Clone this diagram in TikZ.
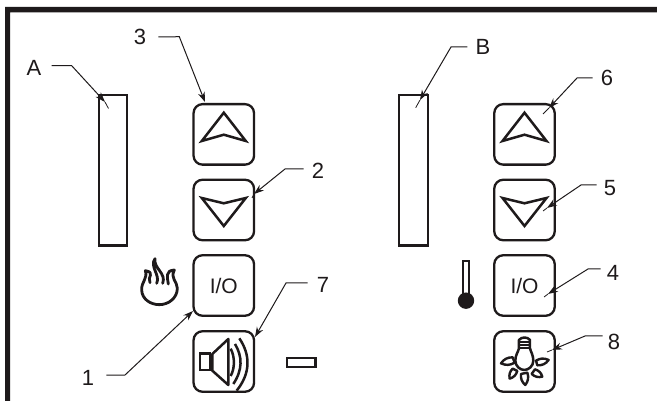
\documentclass[tikz,border=0pt]{standalone}
\usepackage{fontspec}
\setmainfont{Liberation Sans}
\usetikzlibrary{arrows.meta}
\definecolor{ink}{HTML}{1E1A1B}
\newcommand{\iolabel}{\raisebox{-2pt}{I/O}\hspace{9pt}}
\tikzset{
  btn/.style={draw=ink,line width=2.3pt,rounded corners=9pt,minimum width=60.5pt,minimum height=60.5pt,inner sep=0pt,font=\fontsize{21}{21}\selectfont,text=ink},
  gauge/.style={draw=ink,line width=2.4pt},
  glyph/.style={draw=ink,line width=2.5pt,line join=miter},
  lbl/.style={inner sep=0pt,text=ink,font=\fontsize{22}{22}\selectfont},
  leader/.style={draw=ink,line width=1pt,-{Stealth[length=10pt,width=7pt]}},
  tail/.style={draw=ink,line width=0.8pt},
}
\begin{document}
\begin{tikzpicture}[x=1pt,y=-1pt]
\useasboundingbox (0,0) rectangle (657,401);
\fill[white] (0,0) rectangle (657,401);
% frame
\fill[ink] (5,401) -- (5,7) -- (657,7) -- (657,12.5) -- (10,12.5) -- (10,401) -- cycle;
% gauges
\node[gauge,minimum width=28pt,minimum height=150.5pt,inner sep=0pt] (gA) at (112.7,170.3) {};
\node[gauge,minimum width=29pt,minimum height=150.5pt,inner sep=0pt] (gB) at (413.5,170.3) {};
% buttons
\node[btn] (b3) at (223.8,134.4) {};
\node[btn] (b2) at (223.8,210) {};
\node[btn] (b1) at (223.8,285.5) {\iolabel};
\node[btn] (b7) at (223.8,361.5) {};
\node[btn] (b6) at (524.5,134.4) {};
\node[btn] (b5) at (524.5,210) {};
\node[btn] (b4) at (524.5,285.5) {\iolabel};
\node[btn] (b8) at (524.5,361.5) {};
% triangles
\foreach \c in {b3,b6}{
  \draw[glyph,shift={(\c)}] (0,-21.7) -- (22,6.6) -- (0,0.3) -- (-22,6.6) -- cycle;
}
\foreach \c in {b2,b5}{
  \draw[glyph,shift={(\c)}] (0,16) -- (22,-12) -- (0,-6.7) -- (-22,-12) -- cycle;
}
% small rectangle
\node[draw=ink,line width=2.2pt,minimum width=28.5pt,minimum height=9.5pt,inner sep=0pt] (ind) at (301.3,362.5) {};
% flame
\begin{scope}[shift={(120,240)},x=0.3333pt,y=-0.3333pt]
\draw[glyph,line width=2.8pt,line join=round,line cap=round]
  (90,128) .. controls (80,110) and (108,98) .. (76,92)
  .. controls (84,115) and (64,125) .. (65,150)
  .. controls (66,178) and (92,194) .. (118,194)
  .. controls (148,194) and (172,172) .. (172,145)
  .. controls (172,125) and (150,115) .. (163,90)
  .. controls (135,92) and (142,112) .. (145,132)
  (128,130) .. controls (140,100) and (100,85) .. (105,56)
  .. controls (88,80) and (122,105) .. (110,130);
\end{scope}
% speaker
\begin{scope}[shift={(120,240)},x=0.3333pt,y=-0.3333pt]
\draw[glyph] (240,340) rectangle (270,390);
\draw[glyph,line join=round] (277,342) -- (325,297) -- (325,435) -- (277,392) -- cycle;
\draw[glyph] (332,326) .. controls (345,350) and (345,385) .. (332,408);
\draw[glyph] (345,312) .. controls (368,350) and (368,390) .. (340,432);
\draw[glyph] (358,295) .. controls (392,345) and (392,400) .. (350,452);
\end{scope}
% thermometer
\begin{scope}[shift={(440,240)},x=0.3333pt,y=-0.3333pt]
\draw[draw=ink,line width=2.2pt] (68,170) -- (68,62) -- (88,62) -- (88,170);
\fill[ink] (78,182) circle[radius=8.2pt];
\end{scope}
% bulb
\begin{scope}[shift={(440,240)},x=0.3333pt,y=-0.3333pt]
\draw[glyph,line join=round] (237,325) -- (237,300) .. controls (245,290) and (262,290) .. (270,300) -- (270,325)
  .. controls (272,335) and (280,345) .. (280,362)
  .. controls (280,378) and (266,390) .. (253,390)
  .. controls (240,390) and (226,378) .. (226,362)
  .. controls (226,345) and (235,335) .. (237,325) -- cycle;
\draw[glyph,line width=2pt] (237,307) -- (270,307) (237,316) -- (270,316) (237,325) -- (270,325);
\foreach \tipx/\tipy/\ax/\ay/\bx/\by in {
  183/370/218/352/224/368,
  209/416/218/386/232/393,
  256/435/243/402/262/398,
  307/410/275/402/285/388,
  326/360/292/376/288/362}{
  \draw[glyph,line width=2.4pt,line join=round,fill=white] (\tipx,\tipy) to[bend left=28] (\ax,\ay) -- (\bx,\by) to[bend left=28] (\tipx,\tipy) -- cycle;
}
\end{scope}
% labels
\node[lbl] (lA) at (34,68) {A};
\node[lbl] (l3) at (140,37) {3};
\node[lbl] (l2) at (318,171) {2};
\node[lbl] (l1) at (88,378) {1};
\node[lbl] (l7) at (323,285) {7};
\node[lbl] (lB) at (483,47) {B};
\node[lbl] (l6) at (607,78) {6};
\node[lbl] (l5) at (610,188) {5};
\node[lbl] (l4) at (613,273) {4};
\node[lbl] (l8) at (614,342) {8};
% leader bends and ends
\coordinate (kA) at (71.7,65.7); \coordinate (hA) at (105,102); \coordinate (eA) at (108.5,108.5);
\coordinate (k3) at (179.3,36.7); \coordinate (h3) at (205,102);
\coordinate (k2) at (285,169); \coordinate (h2) at (254,194); \coordinate (e2) at (252,198);
\coordinate (k1) at (125,375); \coordinate (h1) at (193,311);
\coordinate (k7) at (286,283); \coordinate (h7) at (255,337);
\coordinate (kB) at (451,47); \coordinate (hB) at (420,100); \coordinate (eB) at (415.7,107.7);
\coordinate (k6) at (577,78); \coordinate (h6) at (549,108); \coordinate (e6) at (543,114);
\coordinate (k5) at (581,185); \coordinate (h5) at (547,208); \coordinate (e5) at (543,211);
\coordinate (k4) at (588,269); \coordinate (h4) at (548,294); \coordinate (e4) at (544,297);
\coordinate (k8) at (585,336); \coordinate (h8) at (552,350); \coordinate (e8) at (547,352);
% leaders
\draw[leader] ([xshift=10pt,yshift=2.3pt]lA.east) -- (kA) -- (hA);
\draw[tail] (hA) -- (eA);
\draw[leader] ([xshift=12pt]l3.east) -- (k3) -- (h3);
\draw[leader] ([xshift=-8pt,yshift=2pt]l2.west) -- (k2) -- (h2);
\draw[tail] (h2) -- (e2);
\draw[leader] ([xshift=12pt,yshift=3pt]l1.east) -- (k1) -- (h1);
\draw[leader] ([xshift=-9pt,yshift=2pt]l7.west) -- (k7) -- (h7);
\draw[leader] ([xshift=-8pt]lB.west) -- (kB) -- (hB);
\draw[tail] (hB) -- (eB);
\draw[leader] ([xshift=-8pt]l6.west) -- (k6) -- (h6);
\draw[tail] (h6) -- (e6);
\draw[leader] ([xshift=-7pt,yshift=3pt]l5.west) -- (k5) -- (h5);
\draw[tail] (h5) -- (e5);
\draw[leader] ([xshift=-6pt,yshift=4pt]l4.west) -- (k4) -- (h4);
\draw[tail] (h4) -- (e4);
\draw[leader] ([xshift=-5pt,yshift=6pt]l8.west) -- (k8) -- (h8);
\draw[tail] (h8) -- (e8);
\end{tikzpicture}
\end{document}
